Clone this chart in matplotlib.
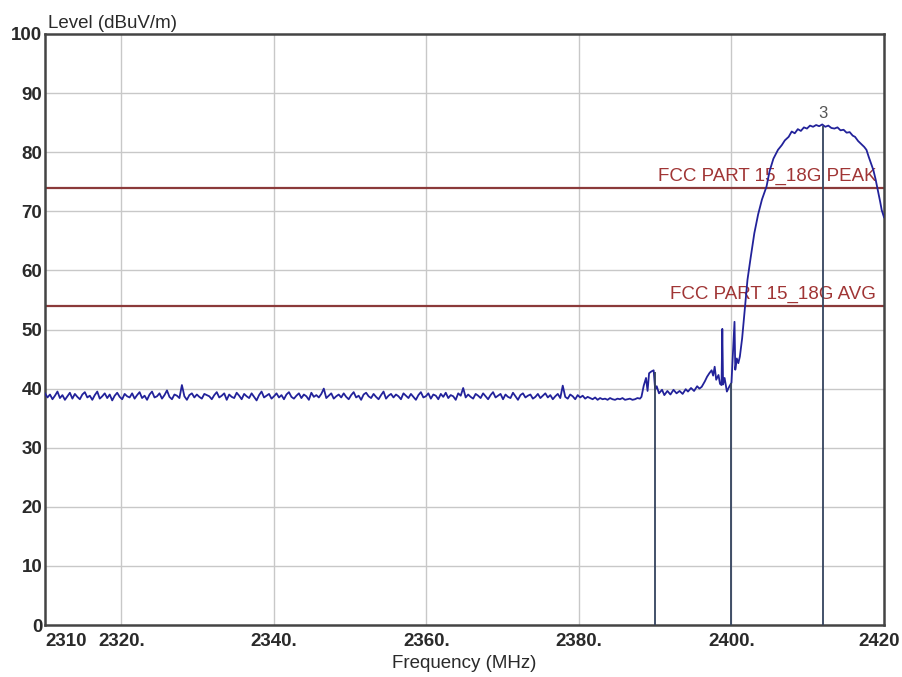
import numpy as np
import matplotlib.transforms as mtransforms
from matplotlib import pyplot as plt

# noise floor 2310..2388 MHz (dBuV/m)
NOISE_START = 2310.0
NOISE_STOP = 2388.0
noise_level = [
    39.2, 38.5, 39.0, 38.2, 38.8, 39.5, 38.4, 38.9, 38.1, 38.7, 39.3, 38.3, 39.1, 38.6, 38.2, 39.0, 39.4, 38.5, 38.8, 38.1,
    38.9, 39.5, 38.3, 38.7, 39.2, 38.4, 39.0, 38.0, 38.8, 39.3, 38.6, 38.2, 39.1, 38.7, 38.5, 39.2, 38.3, 38.9, 39.4, 38.4,
    38.8, 38.1, 39.0, 39.5, 38.5, 38.7, 39.2, 38.3, 38.9, 39.7, 38.6, 38.2, 39.0, 38.8, 38.4, 40.6, 38.7, 38.1, 38.9, 39.2,
    38.5, 39.0, 38.6, 38.3, 39.1, 38.9, 38.7, 38.2, 38.9, 39.4, 38.5, 38.8, 39.2, 38.1, 39.0, 38.6, 38.4, 39.3, 38.8, 38.2,
    39.1, 38.7, 38.4, 39.2, 38.6, 38.0, 38.9, 39.5, 38.5, 38.8, 39.1, 38.3, 38.7, 39.2, 38.5, 38.9, 38.2, 39.0, 39.4, 38.6,
    38.3, 38.8, 39.2, 38.4, 39.0, 38.7, 38.1, 39.3, 38.6, 38.9, 38.5, 39.1, 40.0, 38.4, 38.8, 39.2, 38.3, 38.7, 39.0, 38.5,
    39.2, 38.6, 38.2, 38.9, 39.4, 38.5, 38.8, 38.1, 39.0, 39.3, 38.7, 38.4, 39.1, 38.6, 38.2, 38.9, 39.5, 38.3, 38.8, 39.1,
    38.5, 39.0, 38.7, 38.2, 39.2, 38.8, 38.4, 39.1, 38.6, 38.1, 38.9, 39.4, 38.5, 38.7, 39.2, 38.3, 39.0, 38.8, 38.2, 39.1,
    38.6, 39.3, 38.4, 38.9, 38.7, 38.1, 39.2, 38.8, 40.1, 38.5, 39.0, 38.6, 38.3, 39.1, 38.8, 38.4, 39.2, 38.7, 38.2, 38.9,
    39.4, 38.5, 38.8, 39.1, 38.2, 39.0, 38.6, 38.4, 39.3, 38.7, 38.1, 38.9, 39.2, 38.5, 38.8, 39.0, 38.3, 38.6, 39.1, 38.4,
    38.8, 39.2, 38.5, 38.9, 38.2, 38.7, 39.1, 38.4, 40.5, 38.6, 38.3, 39.0, 38.7, 38.2, 38.9, 38.5, 38.8, 38.3, 38.6, 38.4,
    38.2, 38.5, 38.1, 38.4, 38.2, 38.3, 38.1, 38.4, 38.2, 38.1, 38.3, 38.2, 38.4, 38.1, 38.2, 38.3, 38.1, 38.2, 38.4, 38.3,
]

# band edge + carrier 2388..2420 MHz
tail_freq = [
    2388.2, 2388.5, 2388.8, 2389.0, 2389.2, 2389.5, 2389.8, 2390.0, 2390.2, 2390.5,
    2390.9, 2391.2, 2391.6, 2392.0, 2392.4, 2392.8, 2393.2, 2393.6, 2394.0, 2394.3,
    2394.7, 2395.1, 2395.5, 2395.8, 2396.1, 2396.5, 2396.8, 2397.1, 2397.4, 2397.6,
    2397.8, 2398.0, 2398.3, 2398.5, 2398.7, 2398.8, 2398.9, 2399.1, 2399.4, 2399.7,
    2400.0, 2400.2, 2400.4, 2400.5, 2400.7, 2400.9, 2401.1, 2401.4, 2401.7, 2402.1,
    2402.5, 2403.0, 2403.5, 2404.0, 2404.6, 2405.0, 2405.5, 2406.1, 2406.6, 2407.0,
    2407.5, 2407.9, 2408.3, 2408.7, 2409.1, 2409.5, 2409.9, 2410.3, 2410.7, 2411.1,
    2411.5, 2411.9, 2412.3, 2412.7, 2413.1, 2413.5, 2413.9, 2414.3, 2414.7, 2415.1,
    2415.5, 2415.9, 2416.2, 2416.6, 2417.0, 2417.4, 2417.7, 2418.0, 2418.3, 2418.6,
    2418.9, 2419.2, 2419.5, 2419.7, 2420.0,
]
tail_level = [
    38.6, 40.5, 41.8, 39.6, 42.6, 42.9, 43.1, 39.8, 40.4, 39.2,
    39.8, 38.9, 39.6, 39.0, 39.8, 39.2, 39.6, 39.1, 39.9, 39.5,
    40.1, 39.6, 40.4, 40.0, 40.3, 41.2, 42.0, 42.6, 43.1, 42.2,
    43.7, 41.5, 42.3, 40.8, 40.6, 50.1, 40.7, 41.8, 39.5, 40.3,
    41.0, 46.0, 51.3, 43.2, 45.1, 44.3, 45.4, 48.5, 52.8, 58.4,
    62.0, 66.3, 69.5, 72.0, 74.2, 76.8, 78.9, 80.4, 81.2, 82.0,
    82.6, 83.5, 83.2, 83.9, 83.6, 84.2, 84.0, 84.5, 84.3, 84.6,
    84.4, 84.7, 84.3, 84.5, 84.1, 84.0, 84.2, 83.7, 83.8, 83.3,
    83.4, 82.8, 82.6, 81.9, 81.4, 80.9, 80.4, 79.2, 78.1, 77.0,
    75.4, 73.5, 71.6, 70.2, 69.0,
]

# limit lines
limit_level = [74, 54]
limit_label = ['FCC PART 15_18G PEAK', 'FCC PART 15_18G AVG']

# markers
marker_freq = [2390, 2400, 2412]
marker_level = [42.8, 41.0, 84.4]
marker_text = ['', '', '3']

xticks = [2310, 2320, 2340, 2360, 2380, 2400, 2420]
xticklabels = ['2310', '2320.', '2340.', '2360.', '2380.', '2400.', '2420']
yticks = [0, 10, 20, 30, 40, 50, 60, 70, 80, 90, 100]

FONT = ['Liberation Sans', 'DejaVu Sans']
TXT = '#2a2a2a'

plt.rcParams['font.family'] = FONT

fig = plt.figure(figsize=(9.03, 6.77), dpi=100)
fig.patch.set_facecolor('white')
ax = fig.add_axes([45 / 903, 52 / 677, 839 / 903, 591 / 677])

noise_freq = np.linspace(NOISE_START, NOISE_STOP, len(noise_level))
freq = np.concatenate([noise_freq, tail_freq])
level = np.concatenate([noise_level, tail_level])

for y in yticks[1:-1]:
    ax.axhline(y, color='#c8c8c8', lw=1.0, zorder=1)
for x in xticks[1:-1]:
    ax.axvline(x, color='#c8c8c8', lw=1.0, zorder=1)

for y, lab in zip(limit_level, limit_label):
    ax.axhline(y, color='#8b3a3a', lw=1.6, zorder=2)
    ax.text(2419.0, y + 0.5, lab, color='#a03535', fontsize=13.5,
            ha='right', va='bottom', zorder=2)

ax.plot(freq, level, color='#22229a', lw=1.3, zorder=3)

ax.vlines(marker_freq, 0, marker_level, color='#34435e', lw=1.3, zorder=4)
for x, y, t in zip(marker_freq, marker_level, marker_text):
    if t:
        ax.text(x, y + 0.8, t, color='#555555', fontsize=12, ha='center', va='bottom')

ax.set_xlim(2310, 2420)
ax.set_ylim(0, 100)
ax.set_xticks(xticks)
ax.set_xticklabels(xticklabels)
ax.set_yticks(yticks)
ax.tick_params(length=0, labelsize=13.5, labelcolor=TXT)
ax.tick_params(axis='x', pad=6)
ax.tick_params(axis='y', pad=2)
for lab in ax.get_xticklabels() + ax.get_yticklabels():
    lab.set_fontweight('bold')
ax.get_xticklabels()[0].set_ha('left')
last = ax.get_xticklabels()[-1]
last.set_transform(last.get_transform() + mtransforms.ScaledTranslation(-5 / 100, 0, fig.dpi_scale_trans))

for s in ax.spines.values():
    s.set_color('#444444')
    s.set_linewidth(1.8)

ax.set_xlabel('Frequency (MHz)', fontsize=13.5, color=TXT, labelpad=3)
fig.text(48 / 903, 1 - 32 / 677, 'Level (dBuV/m)', fontsize=13.5, color=TXT,
         ha='left', va='bottom')

fig.savefig('out.png', dpi=100)
